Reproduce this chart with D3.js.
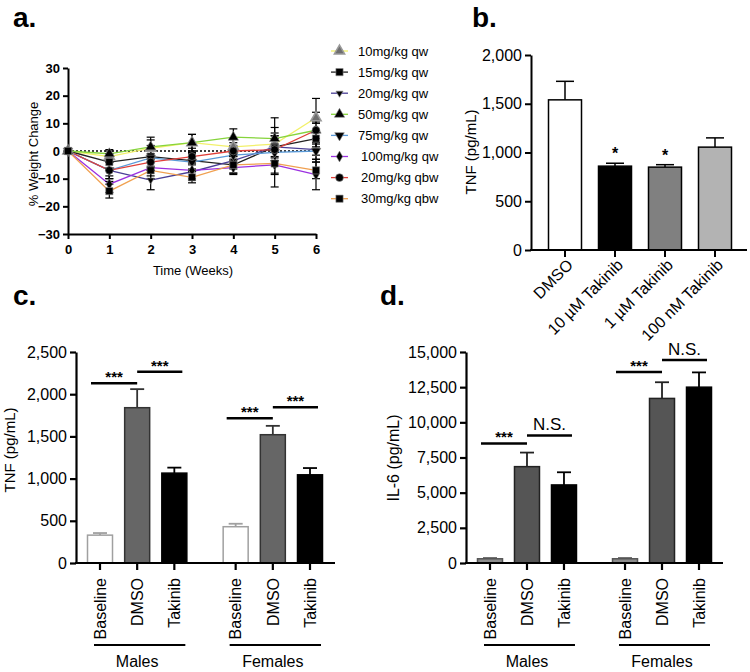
<!DOCTYPE html>
<html><head><meta charset="utf-8">
<script src="https://cdn.jsdelivr.net/npm/d3@7"></script>
<style>body{margin:0;background:#fff} text{font-family:"Liberation Sans",Arial,Helvetica,sans-serif;fill:#000}</style>
</head><body><svg id="c" width="750" height="672"></svg>
<script>
// ---------- Panel a data ----------
const weeks = [0,1,2,3,4,5,6];
const weekTicks = [0,1,2,3,4,5,6];
const weightTicks = [-30,-20,-10,0,10,20,30];
const seriesNames = ["10mg/kg qw","15mg/kg qw","20mg/kg qw","50mg/kg qw","75mg/kg qw","100mg/kg qw","20mg/kg qbw","30mg/kg qbw"];
const seriesColors = ["#f2f06a","#222222","#4a3f96","#86d43c","#5a9ad8","#9b30e0","#e0403a","#f0a050"];
const seriesSymbols = ["triangle","square","tridown-small","triangle","tridown","diamond","circle","square"];
const w10qw  = [0,-2,1,3,1.5,2.5,12];
const w15qw  = [0,-4,-2,-3.5,-5,1.5,4.5];
const w20qw  = [0,-7,-10.5,-7.5,-3.5,1.5,0.5];
const w50qw  = [0,-1,1.5,3,5,4.5,7.5];
const w75qw  = [0,-7,-2.5,-4,-1.5,-0.5,0];
const w100qw = [0,-12,-6,-7,-6,-5,-8.5];
const w20qbw = [0,-7,-4,-2,0,0.5,7.5];
const w30qbw = [0,-14.5,-7,-9.5,-5,-4.5,-7];
const e10qw  = [0,2,3,3,3,3,2];
const e15qw  = [0,3,4,3,3,5,3];
const e20qw  = [0,4,3.5,3,3,4,2];
const e50qw  = [0,1.5,3.5,3,3,4,3];
const e75qw  = [0,3,3,3,3,12.5,3];
const e100qw = [0,3,3,3,2.5,3,5.5];
const e20qbw = [0,3,3,3,3,4,11.5];
const e30qbw = [0,2.5,3,2,3,4,3];
const weightValues = [w10qw,w15qw,w20qw,w50qw,w75qw,w100qw,w20qbw,w30qbw];
const weightErrors = [e10qw,e15qw,e20qw,e50qw,e75qw,e100qw,e20qbw,e30qbw];

// ---------- Panel b data ----------
const bCats = ["DMSO","10 µM Takinib","1 µM Takinib","100 nM Takinib"];
const bValues = [1540,860,850,1055];
const bErrors = [190,30,25,95];
const bFills = ["#ffffff","#000000","#808080","#b3b3b3"];
const bTicks = [0,500,1000,1500,2000];
const bStars = ["","*","*",""];

// ---------- Panel c/d data ----------
const groups = ["Males","Females"];
const conds = ["Baseline","DMSO","Takinib"];
const tnfMales = [330,1840,1065];
const tnfMalesErr = [25,220,65];
const tnfFemales = [430,1520,1045];
const tnfFemalesErr = [35,105,80];
const tnfTicks = [0,500,1000,1500,2000,2500];
const il6Males = [300,6850,5550];
const il6MalesErr = [50,1000,900];
const il6Females = [300,11700,12500];
const il6FemalesErr = [50,1150,1050];
const il6Ticks = [0,2500,5000,7500,10000,12500,15000];
// significance: [group, from, to, level, label]
const tnfSig = [[0,0,1,2130,"***"],[0,1,2,2265,"***"],[1,0,1,1715,"***"],[1,1,2,1845,"***"]];
const il6Sig = [[0,0,1,8500,"***"],[0,1,2,9070,"N.S."],[1,0,1,13570,"***"],[1,1,2,14430,"N.S."]];

const svg = d3.select("#c");
const fmt = d3.format(",");

function styleAxis(g, w){
  g.select(".domain").attr("stroke","#000").attr("stroke-width",w);
  g.selectAll(".tick line").attr("stroke","#000").attr("stroke-width",w);
}

// ---------- Panel labels ----------
[["a.",13,27],["b.",472,27],["c.",13,305],["d.",380,305]].forEach(([t,x,y])=>{
  svg.append("text").attr("x",x).attr("y",y).attr("font-size",28).attr("font-weight","bold").text(t);
});

// ---------- Panel a ----------
(function(){
  const x = d3.scaleLinear().domain([0,6]).range([68,316]);
  const y = d3.scaleLinear().domain([-30,30]).range([234,68]);
  const g = svg.append("g");
  const ya = g.append("g").attr("transform","translate(68,0)")
    .call(d3.axisLeft(y).tickValues(weightTicks).tickSize(5).tickSizeOuter(0).tickFormat(d3.format("d")));
  styleAxis(ya,2);
  ya.selectAll(".tick text").attr("font-size",13).attr("font-weight","bold").attr("fill","#000");
  const xa = g.append("g").attr("transform","translate(0,234)")
    .call(d3.axisBottom(x).tickValues(weekTicks).tickSize(5).tickSizeOuter(0).tickFormat(d3.format("d")));
  styleAxis(xa,2);
  xa.selectAll(".tick text").attr("font-size",13).attr("font-weight","bold").attr("fill","#000").attr("dy","0.9em");
  g.append("text").attr("transform","translate(33,154) rotate(-90)").attr("text-anchor","middle").attr("dy","0.35em").attr("font-size",13).text("% Weight Change");
  g.append("text").attr("x",193).attr("y",275).attr("text-anchor","middle").attr("font-size",13).text("Time (Weeks)");
  // dotted zero line
  g.append("line").attr("x1",x(0)).attr("x2",x(6)).attr("y1",y(0)).attr("y2",y(0))
    .attr("stroke","#000").attr("stroke-width",1.6).attr("stroke-dasharray","2,2");

  const line = d3.line().x((d,i)=>x(weeks[i])).y(d=>y(d));
  weightValues.forEach((vals,si)=>{
    g.append("path").attr("d",line(vals)).attr("fill","none").attr("stroke",seriesColors[si]).attr("stroke-width",1.3);
  });
  weightValues.forEach((vals,si)=>{
    vals.forEach((v,i)=>{
      const e = weightErrors[si][i];
      if(!e) return;
      const cx = x(weeks[i]);
      g.append("line").attr("x1",cx).attr("x2",cx).attr("y1",y(v-e)).attr("y2",y(v+e)).attr("stroke","#000").attr("stroke-width",1.2);
      [v-e,v+e].forEach(t=>g.append("line").attr("x1",cx-4).attr("x2",cx+4).attr("y1",y(t)).attr("y2",y(t)).attr("stroke","#000").attr("stroke-width",1.2));
    });
  });
  function marker(sel, sym, cx, cy, si){
    let type = d3.symbolTriangle, size = 46, rot = 0;
    if(sym==="square"){type=d3.symbolSquare;size=52;}
    if(sym==="circle"){type=d3.symbolCircle;size=48;}
    if(sym==="diamond"){type=d3.symbolDiamond;size=34;}
    if(sym==="tridown"){rot=180;size=40;}
    if(sym==="tridown-small"){rot=180;size=22;}
    const fill = si===0 ? "#6e6e6e" : "#000";
    sel.append("path").attr("d",d3.symbol().type(type).size(size)())
      .attr("transform",`translate(${cx},${cy}) rotate(${rot})`)
      .attr("fill",fill).attr("stroke",si===0?"#9a9a9a":"#888").attr("stroke-width",si===0?1.5:0.6);
  }
  weightValues.forEach((vals,si)=>{
    vals.forEach((v,i)=>marker(g, seriesSymbols[si], x(weeks[i]), y(v), si));
  });
  // legend
  const lg = svg.append("g");
  seriesNames.forEach((n,i)=>{
    const ly = 51 + i*21.1;
    lg.append("line").attr("x1",331).attr("x2",348).attr("y1",ly).attr("y2",ly).attr("stroke",seriesColors[i]).attr("stroke-width",1.3);
    marker(lg, seriesSymbols[i], 339.5, ly, i);
    lg.append("text").attr("x",i<5?358:361).attr("y",ly).attr("dy","0.35em").attr("font-size",13).text(n);
  });
})();

// ---------- Panel b ----------
(function(){
  const x = d3.scaleBand().domain(bCats).range([540,740]).paddingInner(0.34).paddingOuter(0.17);
  const y = d3.scaleLinear().domain([0,2000]).range([250,55]);
  const g = svg.append("g");
  const ya = g.append("g").attr("transform","translate(531,0)")
    .call(d3.axisLeft(y).tickValues(bTicks).tickSize(6).tickSizeOuter(0).tickFormat(fmt));
  styleAxis(ya,2);
  ya.selectAll(".tick text").attr("font-size",16).attr("fill","#000");
  g.append("text").attr("transform","translate(471,152) rotate(-90)").attr("text-anchor","middle").attr("dy","0.35em").attr("font-size",15).text("TNF (pg/mL)");
  bCats.forEach((c,i)=>{
    const cx = x(c)+x.bandwidth()/2;
    const top = y(bValues[i]+bErrors[i]);
    g.append("line").attr("x1",cx).attr("x2",cx).attr("y1",y(bValues[i])).attr("y2",top).attr("stroke","#000").attr("stroke-width",1.5);
    g.append("line").attr("x1",cx-9).attr("x2",cx+9).attr("y1",top).attr("y2",top).attr("stroke","#000").attr("stroke-width",1.5);
    g.append("rect").attr("x",x(c)).attr("width",x.bandwidth()).attr("y",y(bValues[i])).attr("height",y(0)-y(bValues[i]))
      .attr("fill",bFills[i]).attr("stroke","#000").attr("stroke-width",1.5);
    if(bStars[i]) g.append("text").attr("x",cx).attr("y",top-4).attr("text-anchor","middle").attr("font-size",16).attr("font-weight","bold").text(bStars[i]);
    g.append("line").attr("x1",cx).attr("x2",cx).attr("y1",250).attr("y2",257).attr("stroke","#000").attr("stroke-width",2);
    g.append("text").attr("transform",`translate(${cx+5},${262}) rotate(-45)`).attr("text-anchor","end").attr("dy","0.35em").attr("font-size",16).text(c);
  });
  g.append("line").attr("x1",530).attr("x2",747).attr("y1",250).attr("y2",250).attr("stroke","#000").attr("stroke-width",2);
})();

// ---------- Panel c & d ----------
function groupedPanel(opt){
  const gapSlots = 0.65;
  const x = d3.scaleLinear().domain([0, 2*3+gapSlots-1]).range(opt.xr);
  const y = d3.scaleLinear().domain([0, opt.ymax]).range([563,352]);
  const g = svg.append("g");
  const slot = (gi,ci)=> gi*(3+gapSlots)+ci;
  const ya = g.append("g").attr("transform",`translate(${opt.ax},0)`)
    .call(d3.axisLeft(y).tickValues(opt.ticks).tickSize(6).tickSizeOuter(0).tickFormat(fmt));
  styleAxis(ya,2.2);
  ya.selectAll(".tick text").attr("font-size",16).attr("fill","#000");
  g.append("text").attr("transform",`translate(${opt.lx},${opt.ly}) rotate(-90)`).attr("text-anchor","middle").attr("dy","0.35em").attr("font-size",opt.lfs).text(opt.label);
  const bw = 25;
  groups.forEach((gn,gi)=>{
    const vals = opt.vals[gi], errs = opt.errs[gi];
    conds.forEach((cn,ci)=>{
      const cx = x(slot(gi,ci));
      const top = y(vals[ci]+errs[ci]);
      g.append("line").attr("x1",cx).attr("x2",cx).attr("y1",y(vals[ci])).attr("y2",top).attr("stroke",opt.strokes[ci]).attr("stroke-width",1.8);
      g.append("line").attr("x1",cx-7).attr("x2",cx+7).attr("y1",top).attr("y2",top).attr("stroke",opt.strokes[ci]).attr("stroke-width",1.8);
      g.append("rect").attr("x",cx-bw/2).attr("width",bw).attr("y",y(vals[ci])).attr("height",y(0)-y(vals[ci]))
        .attr("fill",opt.fills[ci]).attr("stroke",opt.strokes[ci]).attr("stroke-width",1.5);
      g.append("line").attr("x1",cx).attr("x2",cx).attr("y1",563).attr("y2",570).attr("stroke","#000").attr("stroke-width",2.2);
      g.append("text").attr("transform",`translate(${cx},578) rotate(-90)`).attr("text-anchor","end").attr("dy","0.36em").attr("font-size",16).text(cn);
    });
    const x0 = x(slot(gi,0))-6, x1 = x(slot(gi,2))+11;
    g.append("line").attr("x1",x0).attr("x2",x1).attr("y1",645).attr("y2",645).attr("stroke","#000").attr("stroke-width",2.2);
    g.append("text").attr("x",(x(slot(gi,0))+x(slot(gi,2)))/2).attr("y",667).attr("text-anchor","middle").attr("font-size",16).text(gn);
  });
  opt.sig.forEach(([gi,a,b,lv,lab])=>{
    const xa = x(slot(gi,a)) - (a===0?9:0);
    const xb = x(slot(gi,b)) + (b===2?8:0);
    const yy = y(lv);
    g.append("line").attr("x1",xa).attr("x2",xb).attr("y1",yy).attr("y2",yy).attr("stroke","#000").attr("stroke-width",2.5);
    if(lab==="***") g.append("text").attr("x",(xa+xb)/2).attr("y",yy-1).attr("text-anchor","middle").attr("font-size",15).attr("font-weight","bold").text(lab);
    else g.append("text").attr("x",(xa+xb)/2).attr("y",yy-5).attr("text-anchor","middle").attr("font-size",17).text(lab);
  });
  g.append("line").attr("x1",opt.ax-1).attr("x2",opt.xend).attr("y1",563).attr("y2",563).attr("stroke","#000").attr("stroke-width",2.2);
}
groupedPanel({xr:[100,310], ax:76, xend:335, ymax:2500, ticks:tnfTicks, label:"TNF (pg/mL)", lx:10, ly:450, lfs:15,
  vals:[tnfMales,tnfFemales], errs:[tnfMalesErr,tnfFemalesErr], sig:tnfSig,
  fills:["#ffffff","#666666","#000000"], strokes:["#a0a0a0","#333333","#000000"]});
groupedPanel({xr:[490,699], ax:466, xend:723, ymax:15000, ticks:il6Ticks, label:"IL-6 (pg/mL)", lx:393, ly:458, lfs:16,
  vals:[il6Males,il6Females], errs:[il6MalesErr,il6FemalesErr], sig:il6Sig,
  fills:["#8c8c8c","#555555","#000000"], strokes:["#555555","#222222","#000000"]});
</script></body></html>
